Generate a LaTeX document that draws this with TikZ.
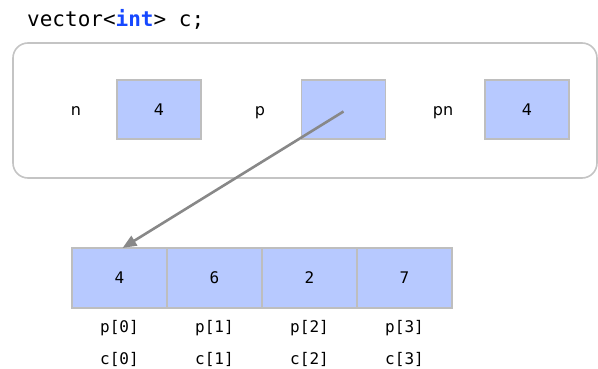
\documentclass[tikz,border=0pt]{standalone}
\usepackage{fontspec}
\setmainfont{DejaVu Sans}
\setmonofont{DejaVu Sans Mono}
\usetikzlibrary{arrows.meta,positioning,calc}
\definecolor{CellBlue}{RGB}{183,201,255}
\definecolor{CellEdge}{RGB}{190,190,190}
\definecolor{FrameEdge}{RGB}{196,196,196}
\definecolor{PtrGray}{RGB}{136,136,136}
\definecolor{KwBlue}{RGB}{22,72,255}
\tikzset{
  field/.style={draw=CellEdge,fill=CellBlue,line width=1.6pt,minimum width=84pt,
                minimum height=59pt,inner sep=0pt,outer sep=0pt,
                font=\fontsize{16}{19}\selectfont},
  cell/.style={field,minimum width=95pt,minimum height=60pt,
               font=\fontsize{16}{19}\selectfont\ttfamily},
  fname/.style={inner sep=0pt,anchor=base,font=\fontsize{16}{19}\selectfont},
  idx/.style={inner sep=0pt,font=\fontsize{16}{19}\selectfont\ttfamily},
  frame/.style={draw=FrameEdge,line width=1.6pt,rounded corners=15pt},
  ptr/.style={-{Triangle[length=14pt,width=11pt]},line width=2.6pt,PtrGray},
}
\begin{document}
\begin{tikzpicture}[x=1pt,y=-1pt]
  \useasboundingbox (0,0) rectangle (598,369);

  % declaration
  \node[anchor=base west,inner sep=0pt,font=\fontsize{21}{24}\selectfont\ttfamily]
    (decl) at (27,27) {vector<\textbf{\color{KwBlue}int}> c;};

  % the vector object
  \draw[frame] (13,43) rectangle (597,178);
  \node[fname] (nlab) at (76,116) {n};
  \node[field] (nv) at (159,109.5) {4};
  \node[fname] (plab) at (260,116) {p};
  \node[field] (pv) at (343.5,109.5) {};
  \node[fname] (pnlab) at (443,116) {pn};
  \node[field] (pnv) at (527,109.5) {4};

  % heap array
  \node[cell] (a0) at (119.5,278) {4};
  \node[cell,right=0pt of a0] (a1) {6};
  \node[cell,right=0pt of a1] (a2) {2};
  \node[cell,right=0pt of a2] (a3) {7};

  \foreach \i in {0,...,3} {
    \node[idx] (p\i) at ($(a\i.center)+(0,50)$) {p[\i]};
    \node[idx] (c\i) at ($(a\i.center)+(0,81)$) {c[\i]};
  }

  \draw[ptr] ($(pv.center)+(0,2)$) -- ($(a0.north)+(3,0)$);
\end{tikzpicture}
\end{document}
